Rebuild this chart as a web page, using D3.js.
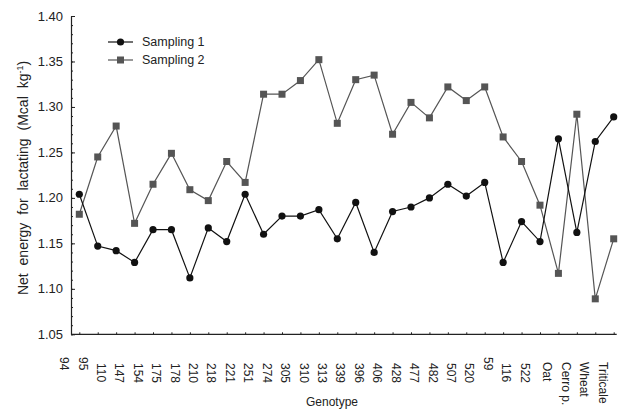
<!DOCTYPE html>
<html>
<head>
<meta charset="utf-8">
<script src="https://cdn.jsdelivr.net/npm/d3@7"></script>
<style>
  body { margin: 0; background: #fff; }
  text { font-family: "Liberation Sans", Arial, sans-serif; fill: #222; }
</style>
</head>
<body>
<div id="container"></div>
<script>
// genotypes, in the order shown on the x axis
var genotypes = ["94", "95", "110", "147", "154", "175", "178", "210", "218", "221",
  "251", "274", "305", "310", "313", "339", "396", "406", "428", "477",
  "482", "507", "520", "59", "116", "522", "Oat", "Cerro p.", "Wheat", "Triticale"];

var sampling1 = [1.204, 1.147, 1.142, 1.129, 1.165, 1.165, 1.112, 1.167, 1.152, 1.204,
  1.160, 1.180, 1.180, 1.187, 1.155, 1.195, 1.140, 1.185, 1.190, 1.200,
  1.215, 1.202, 1.217, 1.129, 1.174, 1.152, 1.265, 1.162, 1.262, 1.289];

var sampling2 = [1.182, 1.245, 1.279, 1.172, 1.215, 1.249, 1.209, 1.197, 1.240, 1.217,
  1.314, 1.314, 1.329, 1.352, 1.282, 1.330, 1.335, 1.270, 1.305, 1.288,
  1.322, 1.307, 1.322, 1.267, 1.240, 1.192, 1.117, 1.292, 1.089, 1.155];

var yTicks = [1.05, 1.10, 1.15, 1.20, 1.25, 1.30, 1.35, 1.40];

var w = 626, h = 410;

var svg = d3.select("#container")
  .append("svg")
  .attr("width", w)
  .attr("height", h);

// scales
var x = d3.scaleLinear()
  .domain([0, sampling1.length - 1])
  .range([79.3, 613.7]);

var step = x(1) - x(0);

// labels sit one step to the left of their points, as in the original
var xLab = d3.scalePoint()
  .domain(genotypes)
  .range([x(0) - step, x(genotypes.length - 2)]);

var y = d3.scaleLinear()
  .domain([1.05, 1.40])
  .range([334.3, 16]);

var left = 71;

// y axis: minor ticks
svg.append("g")
  .attr("transform", "translate(" + left + ",0)")
  .call(d3.axisRight(y)
    .tickValues(d3.range(105, 141).map(function(d) { return d / 100; }))
    .tickSize(2)
    .tickFormat(""))
  .call(function(g) { g.select(".domain").remove(); })
  .selectAll("line").attr("stroke", "#222");

// y axis: major ticks
var yAxis = svg.append("g")
  .attr("transform", "translate(" + left + ",0)")
  .call(d3.axisRight(y)
    .tickValues(yTicks)
    .tickSize(4)
    .tickSizeOuter(0)
    .tickFormat(""));
yAxis.select(".domain").attr("stroke", "#222").attr("stroke-width", 1.2);
yAxis.selectAll("line").attr("stroke", "#222");

svg.append("g").selectAll("text")
  .data(yTicks)
  .enter()
  .append("text")
  .attr("x", left - 8)
  .attr("y", function(d) { return y(d); })
  .attr("dy", "0.35em")
  .attr("text-anchor", "end")
  .attr("font-size", "13px")
  .text(function(d) { return d.toFixed(2); });

// x axis
var xAxis = svg.append("g")
  .attr("transform", "translate(0," + y(1.05) + ")")
  .call(d3.axisTop(x)
    .tickValues(d3.range(sampling1.length))
    .tickSize(2)
    .tickSizeOuter(0)
    .tickFormat(""));
xAxis.select(".domain")
  .attr("d", "M" + left + ",0H" + (x(sampling1.length - 1) + 3))
  .attr("stroke", "#222").attr("stroke-width", 1.2);
xAxis.selectAll("line").attr("stroke", "#222");

// rotated genotype labels
svg.append("g").selectAll("text")
  .data(genotypes)
  .enter()
  .append("text")
  .attr("transform", function(d) {
    var isNum = !isNaN(+d);
    var tx = xLab(d) + (isNum ? -0.8 : 3.5);
    var ty = d.length == 2 ? 357 : (isNum ? 363 : 362);
    return "translate(" + tx + "," + ty + ") rotate(90)";
  })
  .attr("font-size", "12px")
  .text(function(d) { return d; });

// axis titles
svg.append("text")
  .attr("x", 332)
  .attr("y", 406)
  .attr("text-anchor", "middle")
  .attr("font-size", "12px")
  .text("Genotype");

var yTitle = svg.append("text")
  .attr("transform", "translate(28,178) rotate(-90)")
  .attr("text-anchor", "middle")
  .attr("font-size", "14px")
  .attr("word-spacing", "4px");
yTitle.append("tspan").text("Net energy for lactating (Mcal kg");
yTitle.append("tspan").attr("baseline-shift", "super").attr("font-size", "9px").text("-1");
yTitle.append("tspan").text(")");

// lines
var line = d3.line()
  .x(function(d, i) { return x(i); })
  .y(function(d) { return y(d); });

svg.append("path")
  .datum(sampling2)
  .attr("d", line)
  .attr("fill", "none")
  .attr("stroke", "#555")
  .attr("stroke-width", 1.2);

svg.append("path")
  .datum(sampling1)
  .attr("d", line)
  .attr("fill", "none")
  .attr("stroke", "#111")
  .attr("stroke-width", 1.2);

// markers
var sq = 7;
svg.append("g").selectAll("rect")
  .data(sampling2)
  .enter()
  .append("rect")
  .attr("x", function(d, i) { return x(i) - sq / 2; })
  .attr("y", function(d) { return y(d) - sq / 2; })
  .attr("width", sq)
  .attr("height", sq)
  .attr("fill", "#555");

svg.append("g").selectAll("circle")
  .data(sampling1)
  .enter()
  .append("circle")
  .attr("cx", function(d, i) { return x(i); })
  .attr("cy", function(d) { return y(d); })
  .attr("r", 3.6)
  .attr("fill", "#111");

// legend
var legend = svg.append("g").attr("transform", "translate(108,42)");
legend.append("line").attr("x1", 0).attr("x2", 25).attr("y1", 0).attr("y2", 0)
  .attr("stroke", "#111").attr("stroke-width", 1.2);
legend.append("circle").attr("cx", 12.5).attr("cy", 0).attr("r", 3.6).attr("fill", "#111");
legend.append("text").attr("x", 34).attr("y", 0).attr("dy", "0.35em")
  .attr("font-size", "12.5px").text("Sampling 1");

legend.append("line").attr("x1", 0).attr("x2", 25).attr("y1", 18).attr("y2", 18)
  .attr("stroke", "#555").attr("stroke-width", 1.2);
legend.append("rect").attr("x", 12.5 - sq / 2).attr("y", 18 - sq / 2)
  .attr("width", sq).attr("height", sq).attr("fill", "#555");
legend.append("text").attr("x", 34).attr("y", 18).attr("dy", "0.35em")
  .attr("font-size", "12.5px").text("Sampling 2");
</script>
</body>
</html>
